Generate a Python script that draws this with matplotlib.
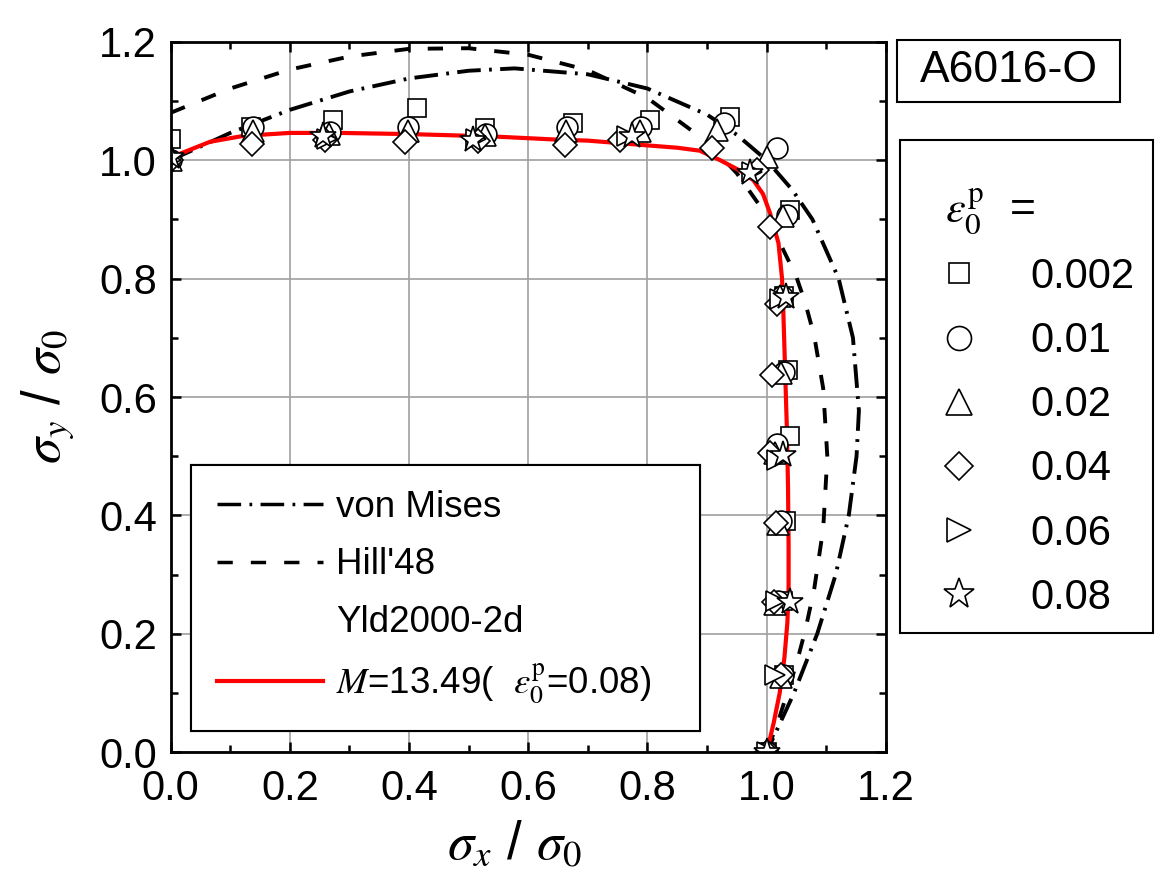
import matplotlib
matplotlib.use('Agg')
import matplotlib.pyplot as plt
from matplotlib.lines import Line2D
from matplotlib.patches import Rectangle
from matplotlib.ticker import MultipleLocator, FormatStrFormatter

plt.rcParams['font.family'] = ['Liberation Sans', 'DejaVu Sans']
plt.rcParams['mathtext.fontset'] = 'stix'
plt.rcParams['lines.scale_dashes'] = False

# yield loci (normalised stresses)
vm_x = [0.0, 0.1, 0.2, 0.3, 0.4, 0.5, 0.577, 0.7, 0.8, 0.9, 0.95, 1.0, 1.043, 1.077, 1.121, 1.145, 1.155, 1.151, 1.138, 1.116, 1.085, 1.046, 1.0]
vm_y = [1.0, 1.046, 1.085, 1.116, 1.138, 1.151, 1.155, 1.145, 1.121, 1.077, 1.043, 1.0, 0.95, 0.9, 0.8, 0.7, 0.577, 0.5, 0.4, 0.3, 0.2, 0.1, 0.0]

hill_x = [0.0, 0.1, 0.2, 0.3, 0.4, 0.5, 0.6, 0.7, 0.8, 0.9, 0.95, 1.0, 1.05, 1.065, 1.08, 1.095, 1.102, 1.095, 1.08, 1.065, 1.05, 1.02, 1.0]
hill_y = [1.080, 1.121, 1.153, 1.175, 1.188, 1.189, 1.178, 1.152, 1.105, 1.031, 0.978, 0.907, 0.803, 0.759, 0.703, 0.615, 0.499, 0.377, 0.276, 0.206, 0.149, 0.054, 0.0]

yld_x = [0.0, 0.016, 0.066, 0.122, 0.2, 0.284, 0.402, 0.541, 0.642, 0.7, 0.799, 0.85, 0.888, 0.922, 0.956, 0.978, 0.994, 1.006,
         1.02, 1.026, 1.028, 1.031, 1.034, 1.036, 1.037, 1.037, 1.035, 1.030, 1.022, 1.012, 1.005, 1.0]
yld_y = [1.0, 1.011, 1.031, 1.041, 1.046, 1.046, 1.044, 1.040, 1.035, 1.033, 1.025, 1.021, 1.016, 1.0, 0.982, 0.966, 0.943, 0.91,
         0.86, 0.80, 0.75, 0.65, 0.55, 0.45, 0.35, 0.28, 0.22, 0.16, 0.10, 0.05, 0.02, 0.0]

# experiments at different plastic work levels
strain_labels = ['0.002', '0.01', '0.02', '0.04', '0.06', '0.08']

x_002 = [0.0, 0.135, 0.272, 0.413, 0.528, 0.676, 0.804, 0.939, 1.040, 1.030, 1.036, 1.039, 1.033, 1.028, 1.030, 1.0]
y_002 = [1.036, 1.056, 1.067, 1.088, 1.055, 1.062, 1.068, 1.073, 0.916, 0.770, 0.646, 0.535, 0.390, 0.255, 0.130, 0.0]

x_01 = [0.0, 0.138, 0.267, 0.399, 0.530, 0.665, 0.790, 0.928, 1.017, 1.035, 1.026, 1.030, 1.018, 1.025, 1.020, 1.028, 1.0]
y_01 = [1.0, 1.056, 1.048, 1.056, 1.045, 1.056, 1.056, 1.062, 1.020, 0.908, 0.770, 0.643, 0.520, 0.390, 0.255, 0.130, 0.0]

x_02 = [0.0, 0.138, 0.265, 0.399, 0.528, 0.663, 0.788, 0.916, 1.000, 1.028, 1.022, 1.025, 1.015, 1.020, 1.015, 1.025, 1.0]
y_02 = [1.0, 1.050, 1.045, 1.050, 1.043, 1.050, 1.050, 1.051, 1.006, 0.905, 0.770, 0.640, 0.505, 0.385, 0.250, 0.128, 0.0]

x_04 = [0.0, 0.136, 0.259, 0.394, 0.515, 0.662, 0.754, 0.908, 0.984, 1.006, 1.018, 1.009, 1.006, 1.016, 1.012, 1.024, 1.0]
y_04 = [1.0, 1.028, 1.034, 1.031, 1.033, 1.025, 1.034, 1.020, 0.983, 0.887, 0.757, 0.637, 0.505, 0.388, 0.253, 0.130, 0.0]

x_06 = [0.0, 0.262, 0.512, 0.765, 0.975, 1.022, 1.018, 1.016, 1.015, 1.0]
y_06 = [1.0, 1.036, 1.035, 1.040, 0.980, 0.765, 0.493, 0.255, 0.130, 0.0]

x_08 = [0.0, 0.256, 0.508, 0.774, 0.972, 1.033, 1.027, 1.039, 1.0]
y_08 = [1.006, 1.040, 1.034, 1.040, 0.978, 0.769, 0.502, 0.253, 0.0]

exp_x = [x_002, x_01, x_02, x_04, x_06, x_08]
exp_y = [y_002, y_01, y_02, y_04, y_06, y_08]
markers = ['s', 'o', '^', 'D', '>', '*']
msizes = [12.5, 15, 16, 12.5, 15, 20]

vm_dash = (17, 6, 2, 6)
hill_dash = (11, 13)

fig = plt.figure(figsize=(11.73, 8.86), dpi=100)
ax = fig.add_axes([0.1455, 0.1509, 0.6096, 0.802])

ax.plot(vm_x, vm_y, color='black', lw=2.8, dashes=vm_dash)
ax.plot(hill_x, hill_y, color='black', lw=2.8, dashes=hill_dash)
ax.plot(yld_x, yld_y, color='red', lw=3)

for xs, ys, m, s in zip(exp_x, exp_y, markers, msizes):
    ax.plot(xs, ys, ls='none', marker=m, ms=s, mfc='white', mec='black', mew=1.2)

ax.set_xlim(0, 1.2)
ax.set_ylim(0, 1.2)
for axis in (ax.xaxis, ax.yaxis):
    axis.set_major_locator(MultipleLocator(0.2))
    axis.set_minor_locator(MultipleLocator(0.1))
    axis.set_major_formatter(FormatStrFormatter('%.1f'))
ax.grid(True, which='major', color='#a0a0a0', lw=1.2)
ax.set_axisbelow(True)
ax.tick_params(which='both', direction='in', top=True, right=True, width=1.8, labelsize=30)
ax.tick_params(which='major', length=7)
ax.tick_params(which='minor', length=5)
ax.tick_params(axis='x', pad=12)
ax.tick_params(axis='y', pad=10)
for sp in ax.spines.values():
    sp.set_linewidth(2)

ax.set_xlabel(r'$\sigma_x$ / $\sigma_0$', fontsize=38)
ax.set_ylabel(r'$\sigma_y$ / $\sigma_0$', fontsize=38)
ax.xaxis.set_label_coords(0.48, -0.095)
ax.yaxis.set_label_coords(-0.132, 0.5)

# model legend inside the axes
model_handles = [
    Line2D([], [], color='black', lw=2.5, dashes=vm_dash),
    Line2D([], [], color='black', lw=2.5, dashes=hill_dash),
    Line2D([], [], color='none'),
    Line2D([], [], color='red', lw=3),
]
model_labels = ['von Mises', "Hill'48", 'Yld2000-2d', r'$M$=13.49(  $\varepsilon_0^{\rm p}$=0.08)']
leg1 = ax.legend(model_handles, model_labels, loc='lower left',
                 bbox_to_anchor=(0.0284, 0.030, 0.712, 0.377), mode='expand', borderaxespad=0,
                 fontsize=26.5, fancybox=False, edgecolor='black', framealpha=1,
                 handlelength=2.9, handletextpad=0.35, borderpad=0.7, labelspacing=0.6)
leg1.get_frame().set_linewidth(1.5)
ax.add_artist(leg1)

# strain level legend on the right
strain_handles = [Line2D([], [], ls='none', marker=m, ms=s * 1.15, mfc='white', mec='black', mew=1.2)
                  for m, s in zip(markers, msizes)]
fig.legend(strain_handles, strain_labels, loc='upper left',
           bbox_to_anchor=(917 / 1173, 1 - 257 / 886), borderaxespad=0, frameon=False,
           fontsize=30, handlelength=2.0, handletextpad=0.72, borderpad=0, labelspacing=0.58)
fig.add_artist(Rectangle((900 / 1173, 1 - 633 / 886), 253 / 1173, 493 / 886,
                         transform=fig.transFigure, fill=False, lw=1.5, ec='black'))
fig.text(945 / 1173, 1 - 212 / 886, r'$\varepsilon_0^{\rm p}$  =', ha='left', va='center', fontsize=32)

# material label
fig.add_artist(Rectangle((897 / 1173, 1 - 102 / 886), 223 / 1173, 62 / 886,
                         transform=fig.transFigure, fill=False, lw=1.5, ec='black'))
fig.text(1008.5 / 1173, 1 - 71 / 886, 'A6016-O', ha='center', va='center', fontsize=32)

fig.savefig('out.png', dpi=100)
